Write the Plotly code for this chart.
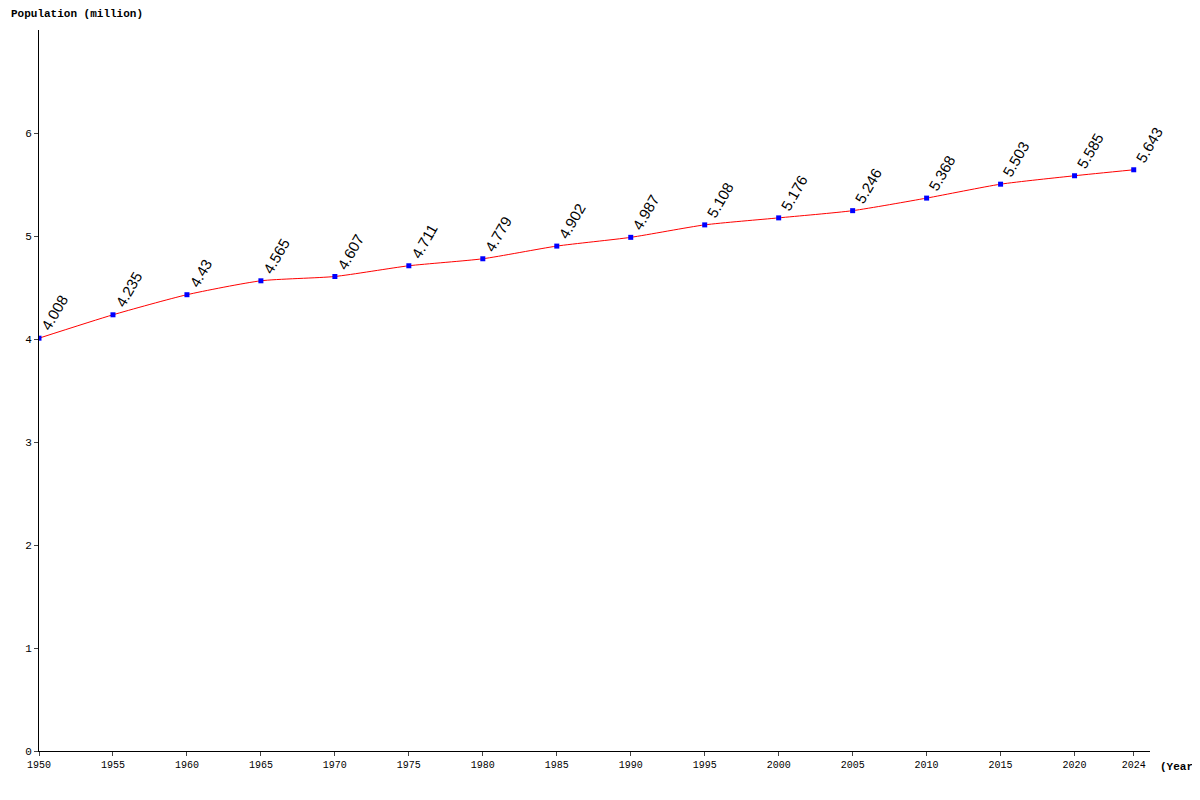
import plotly.graph_objects as go

# Population data (million)
years = [1950, 1955, 1960, 1965, 1970, 1975, 1980, 1985, 1990, 1995, 2000, 2005, 2010, 2015, 2020, 2024]
population = [4.008, 4.235, 4.43, 4.565, 4.607, 4.711, 4.779, 4.902, 4.987, 5.108, 5.176, 5.246, 5.368, 5.503, 5.585, 5.643]
labels = ["4.008", "4.235", "4.43", "4.565", "4.607", "4.711", "4.779", "4.902", "4.987", "5.108",
          "5.176", "5.246", "5.368", "5.503", "5.585", "5.643"]

mono = dict(family="Liberation Mono, DejaVu Sans Mono, monospace", size=11, color="black")

fig = go.Figure()
fig.add_trace(go.Scatter(
    x=years, y=population, mode="lines+markers",
    line=dict(color="red", width=1, shape="spline", smoothing=0.6),
    marker=dict(color="blue", size=5, symbol="square"),
    hoverinfo="x+y",
))

for x, y, t in zip(years, population, labels):
    fig.add_annotation(x=x, y=y, text=t, showarrow=False, textangle=-60,
                       xanchor="left", yanchor="bottom", xshift=-4, yshift=2,
                       font=dict(family="Liberation Sans, Arial, sans-serif", size=15, color="black"))

fig.add_annotation(xref="paper", yref="paper", x=-0.027, y=1.0, yshift=8, text="<b>Population (million)</b>",
                   showarrow=False, xanchor="left", yanchor="bottom", font=mono)
fig.add_annotation(xref="paper", yref="paper", x=1.0, y=0, xshift=8, yshift=-16, text="<b>(Year)</b>",
                   showarrow=False, xanchor="left", yanchor="middle", font=mono)

# the page adds an 8px body margin, so margins are compensated
fig.update_layout(
    width=1200, height=800,
    margin=dict(l=31, r=58, t=22, b=57),
    plot_bgcolor="white", paper_bgcolor="white",
    showlegend=False,
    font=mono,
)
fig.update_xaxes(range=[1950, 2025.1], tickvals=years, ticktext=[str(y) for y in years],
                 showgrid=False, zeroline=False, showline=True, linecolor="black",
                 ticks="outside", ticklen=4, tickfont=dict(size=10, family=mono["family"]))
fig.update_yaxes(range=[0, 7.0], tickvals=[0, 1, 2, 3, 4, 5, 6],
                 showgrid=False, zeroline=False, showline=True, linecolor="black",
                 ticks="outside", ticklen=4, tickfont=dict(size=11, family=mono["family"]))

fig.write_html("out.html")
